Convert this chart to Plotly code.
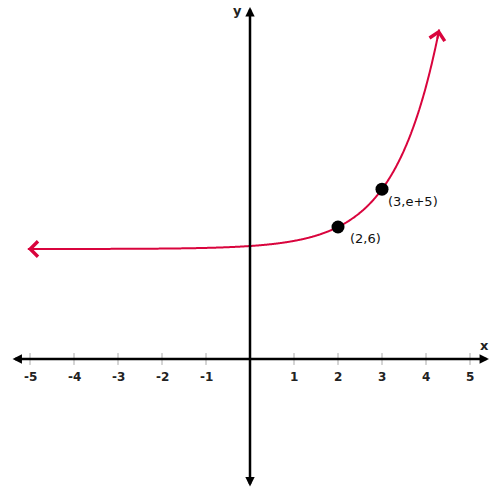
import numpy as np
import plotly.graph_objects as go

# Function y = e^(x-2) + 5 drawn between these x limits
x_start, x_end = -5.05, 4.3
x_ticks = [-5, -4, -3, -2, -1, 1, 2, 3, 4, 5]
tick_labels = ["-5", "-4", "-3", "-2", "-1", "1", "2", "3", "4", "5"]
pt_x = [2, 3]
pt_y = [6, np.e + 5]
pt_labels = ["(2,6)", "(3,e+5)"]

xr = [-250 / 44, 250 / 44]
yr = [-141 / 22, 359 / 22]

RED = "#d9043d"

def f(x):
    return np.exp(x - 2) + 5

xs = np.linspace(x_start, x_end, 600)
fig = go.Figure()
fig.add_trace(go.Scatter(x=xs, y=f(xs), mode="lines", line=dict(color=RED, width=2, shape="spline"),
                         hoverinfo="skip", showlegend=False))
fig.add_trace(go.Scatter(x=pt_x, y=pt_y, mode="markers", marker=dict(color="black", size=13),
                         showlegend=False))

shapes = []
for t in x_ticks:
    shapes.append(dict(type="line", xref="x", yref="y", x0=t, x1=t, y0=-0.27, y1=0.27,
                       line=dict(color="#aaaaaa", width=1), layer="below"))

ann = []
# axes with arrows on both ends
ann.append(dict(x=5.43, y=0, ax=-5.43, ay=0, xref="x", yref="y", axref="x", ayref="y",
                text="", showarrow=True, arrowside="end+start", arrowhead=2, startarrowhead=2,
                arrowsize=0.75, startarrowsize=0.75, arrowwidth=2.5, arrowcolor="black"))
ann.append(dict(x=0, y=16.0, ax=0, ay=-5.86, xref="x", yref="y", axref="x", ayref="y",
                text="", showarrow=True, arrowside="end+start", arrowhead=2, startarrowhead=2,
                arrowsize=0.75, startarrowsize=0.75, arrowwidth=2.5, arrowcolor="black"))
# curve end arrows
ann.append(dict(x=x_start, y=f(x_start), ax=x_start + 0.3, ay=f(x_start), xref="x", yref="y",
                axref="x", ayref="y", text="", showarrow=True, arrowhead=4, arrowsize=1.5,
                arrowwidth=2, arrowcolor=RED))
ann.append(dict(x=x_end, y=f(x_end), ax=x_end - 0.05, ay=f(x_end - 0.05), xref="x", yref="y",
                axref="x", ayref="y", text="", showarrow=True, arrowhead=4, arrowsize=1.5,
                arrowwidth=2, arrowcolor=RED))
for t, lab in zip(x_ticks, tick_labels):
    ann.append(dict(x=t, y=-0.82, xref="x", yref="y", text=lab, showarrow=False,
                    font=dict(family="DejaVu Sans", size=12, color="#222222", weight="bold")))
ann.append(dict(x=0, y=16.0, xref="x", yref="y", text="y", showarrow=False, xshift=-13, yshift=-3,
                font=dict(family="DejaVu Sans", size=13, color="#222222", weight="bold")))
ann.append(dict(x=5.43, y=0, xref="x", yref="y", text="x", showarrow=False, xshift=-4, yshift=14,
                font=dict(family="DejaVu Sans", size=13, color="#222222", weight="bold")))
shifts = [(10, -11), (4, -12)]
for px, py, lab, (sx, sy) in zip(pt_x, pt_y, pt_labels, shifts):
    ann.append(dict(x=px, y=py, xref="x", yref="y", text=lab, showarrow=False, xanchor="left",
                    xshift=sx, yshift=sy,
                    font=dict(family="DejaVu Sans", size=13, color="#111111")))

fig.update_layout(width=500, height=500, margin=dict(l=0, r=0, t=0, b=0),
                  paper_bgcolor="white", plot_bgcolor="white",
                  xaxis=dict(range=xr, visible=False, fixedrange=True),
                  yaxis=dict(range=yr, visible=False, fixedrange=True),
                  shapes=shapes, annotations=ann)
fig.write_html("out.html", config={"displayModeBar": False},
               post_script="document.body.style.margin='0';document.body.style.padding='0';"
                           "document.documentElement.style.overflow='hidden';")
